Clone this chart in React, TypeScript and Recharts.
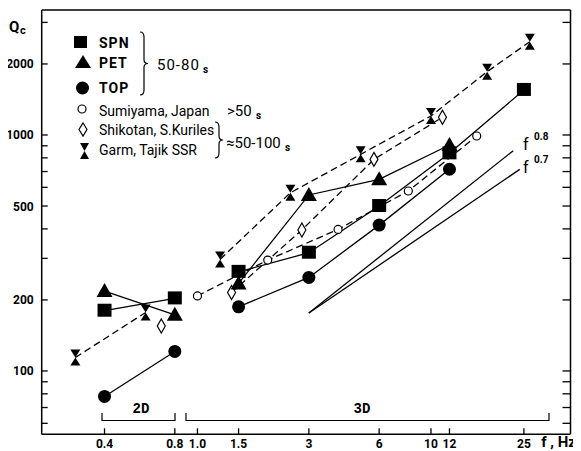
import { LineChart, Line, XAxis, YAxis } from 'recharts'

// frequency (Hz) and coda Q values
const f2D = [0.4, 0.8]
const spn2D = [180, 203]
const pet2D = [218, 173]
const top2D = [78, 121]

const f3D = [1.5, 3, 6, 12]
const spnF3D = [1.5, 3, 6, 12, 25]
const spn3D = [263, 317, 500, 836, 1552]
const pet3D = [235, 557, 649, 907]
const top3D = [187, 249, 415, 716]

const sumiF = [1, 2, 4, 8, 15.7]
const sumiQ = [208, 295, 398, 579, 990]

const shikF2D = [0.7]
const shikQ2D = [155]
const shikF = [1.4, 2.8, 5.7, 11.2]
const shikQ = [215, 396, 788, 1189]

const garmF2D = [0.3, 0.6]
const garmQ2D = [114, 177]
const garmF = [1.25, 2.5, 5, 10, 17.4, 26.5]
const garmQ = [297, 569, 828, 1204, 1855, 2485]

// reference slopes f^0.8 and f^0.7
const slope08F = [3, 22.5]
const slope08Q = [176, 858]
const slope07F = [3, 24]
const slope07Q = [176, 715]

const xTicks = [0.4, 0.8, 1, 1.5, 3, 6, 10, 12, 25]
const xTickLabels = ['0.4', '0.8', '1.0', '1.5', '3', '6', '10', '12', '25']
const yTicks = [60, 70, 80, 90, 100, 200, 300, 400, 500, 600, 700, 800, 900, 1000, 2000, 3000]
const yLabels = [100, 200, 500, 1000, 2000]

const pts = (fs: number[], qs: number[]) => fs.map((f, i) => ({ f, q: qs[i] }))

const FONT = 'Roboto, "DejaVu Sans", sans-serif'

const nope = (p: any) => p.cx == null || p.cy == null

const Square = (p: any) =>
  nope(p) ? <g key={`s${p.index}`} /> : (
    <rect key={`s${p.index}`} x={p.cx - 7} y={p.cy - 7} width={14} height={13} fill="#000" />
  )

const Tri = (p: any) =>
  nope(p) ? <g key={`t${p.index}`} /> : (
    <polygon
      key={`t${p.index}`}
      points={`${p.cx},${p.cy - 8} ${p.cx - 8},${p.cy + 6} ${p.cx + 8},${p.cy + 6}`}
      fill="#000"
    />
  )

const Dot = (p: any) =>
  nope(p) ? <g key={`c${p.index}`} /> : <circle key={`c${p.index}`} cx={p.cx} cy={p.cy} r={6.5} fill="#000" />

const OpenDot = (p: any) =>
  nope(p) ? <g key={`o${p.index}`} /> : (
    <circle key={`o${p.index}`} cx={p.cx} cy={p.cy} r={4} fill="#fff" stroke="#000" strokeWidth={1.2} />
  )

const Diamond = (p: any) =>
  nope(p) ? <g key={`d${p.index}`} /> : (
    <polygon
      key={`d${p.index}`}
      points={`${p.cx},${p.cy - 7} ${p.cx + 4},${p.cy} ${p.cx},${p.cy + 7} ${p.cx - 4},${p.cy}`}
      fill="#fff"
      stroke="#000"
      strokeWidth={1.2}
    />
  )

const Hourglass = (p: any) =>
  nope(p) ? <g key={`h${p.index}`} /> : (
    <g key={`h${p.index}`}>
      <polygon points={`${p.cx - 5},${p.cy - 8} ${p.cx + 5},${p.cy - 8} ${p.cx},${p.cy}`} fill="#000" />
      <polygon points={`${p.cx},${p.cy} ${p.cx - 5},${p.cy + 8} ${p.cx + 5},${p.cy + 8}`} fill="#000" />
    </g>
  )

const LeftTick = ({ x, y, payload }: any) => (
  <g>
    <line x1={x} x2={x + 6} y1={y} y2={y} stroke="#000" strokeWidth={1.3} />
    {yLabels.includes(payload.value) && (
      <text x={x - 8} y={y + 4.5} textAnchor="end" fontFamily={FONT} fontWeight="bold" fontSize={12} fill="#000">
        {payload.value}
      </text>
    )}
  </g>
)

const RightTick = ({ x, y }: any) => (
  <line x1={x - 8} x2={x} y1={y} y2={y} stroke="#000" strokeWidth={1.3} />
)

const BottomTick = ({ x, y, payload }: any) => (
  <g>
    <line x1={x} x2={x} y1={y} y2={y - 6} stroke="#000" strokeWidth={1.3} />
    <text x={x} y={y + 14} textAnchor="middle" fontFamily={FONT} fontWeight="bold" fontSize={12} fill="#000">
      {xTickLabels[xTicks.indexOf(payload.value)]}
    </text>
  </g>
)

const solid = { stroke: '#000', strokeWidth: 1.3, isAnimationActive: false, activeDot: false, type: 'linear' as const }
const dashed = { ...solid, strokeDasharray: '7 4' }

const brace = (x: number, y1: number, y2: number) => {
  const m = (y1 + y2) / 2
  return `M${x},${y1} Q${x + 4},${y1} ${x + 4},${y1 + 5} L${x + 4},${m - 4} Q${x + 4},${m} ${x + 8},${m} Q${x + 4},${m} ${x + 4},${m + 4} L${x + 4},${y2 - 5} Q${x + 4},${y2} ${x},${y2}`
}

export default function App() {
  const xDomain = [0.2153, 39.58]
  const yDomain = [53.9, 3386]
  return (
    <div style={{ position: 'relative', width: 581, height: 451, margin: '-8px 0 0 -8px', background: '#fff' }}>
      <LineChart width={581} height={451} margin={{ top: 0, right: 0, bottom: 0, left: 0 }}>
        <XAxis
          dataKey="f"
          type="number"
          scale="log"
          domain={xDomain}
          allowDataOverflow
          ticks={xTicks}
          interval={0}
          height={16.7}
          tickSize={0}
          tickMargin={0}
          tickLine={false}
          tick={<BottomTick />}
          axisLine={{ stroke: '#000', strokeWidth: 1.5 }}
        />
        <XAxis
          xAxisId="top"
          orientation="top"
          dataKey="f"
          type="number"
          scale="log"
          domain={xDomain}
          allowDataOverflow
          height={10}
          tick={false}
          tickLine={false}
          axisLine={{ stroke: '#000', strokeWidth: 1.5 }}
        />
        <YAxis
          dataKey="q"
          type="number"
          scale="log"
          domain={yDomain}
          allowDataOverflow
          ticks={yTicks}
          interval={0}
          width={41.7}
          tickSize={0}
          tickMargin={0}
          tickLine={false}
          tick={<LeftTick />}
          axisLine={{ stroke: '#000', strokeWidth: 1.5 }}
        />
        <YAxis
          yAxisId="r"
          orientation="right"
          dataKey="q"
          type="number"
          scale="log"
          domain={yDomain}
          allowDataOverflow
          ticks={yTicks}
          interval={0}
          width={10.5}
          tickSize={0}
          tickMargin={0}
          tickLine={false}
          tick={<RightTick />}
          axisLine={{ stroke: '#000', strokeWidth: 1.5 }}
        />

        <Line data={pts(slope08F, slope08Q)} dataKey="q" {...solid} dot={false} />
        <Line data={pts(slope07F, slope07Q)} dataKey="q" {...solid} dot={false} />

        <Line data={pts(garmF2D, garmQ2D)} dataKey="q" {...dashed} dot={Hourglass} />
        <Line data={pts(garmF, garmQ)} dataKey="q" {...dashed} dot={Hourglass} />
        <Line data={pts(shikF2D, shikQ2D)} dataKey="q" {...dashed} dot={Diamond} />
        <Line data={pts(shikF, shikQ)} dataKey="q" {...dashed} dot={Diamond} />
        <Line data={pts(sumiF, sumiQ)} dataKey="q" {...dashed} dot={OpenDot} />

        <Line data={pts(f2D, spn2D)} dataKey="q" {...solid} dot={Square} />
        <Line data={pts(spnF3D, spn3D)} dataKey="q" {...solid} dot={Square} />
        <Line data={pts(f2D, pet2D)} dataKey="q" {...solid} dot={Tri} />
        <Line data={pts(f3D, pet3D)} dataKey="q" {...solid} dot={Tri} />
        <Line data={pts(f2D, top2D)} dataKey="q" {...solid} dot={Dot} />
        <Line data={pts(f3D, top3D)} dataKey="q" {...solid} dot={Dot} />
      </LineChart>

      <svg width={581} height={451} style={{ position: 'absolute', left: 0, top: 0, pointerEvents: 'none' }}>
        <g fontFamily={FONT} fill="#000">
          {/* axis titles */}
          <text x={9} y={32} fontSize={15} fontWeight="bold">Q</text>
          <text x={20} y={34} fontSize={11} fontWeight="bold">c</text>
          <text x={576} y={447} textAnchor="end" fontSize={15} fontWeight="bold">f , Hz</text>

          {/* legend */}
          <rect x={74} y={36} width={13} height={12} fill="#000" />
          <polygon points="83,55 75,68 91,68" fill="#000" />
          <circle cx={82.5} cy={88} r={6.5} fill="#000" />
          <text x={99} y={48} fontSize={14} fontWeight="bold" letterSpacing={1}>SPN</text>
          <text x={99} y={68} fontSize={14} fontWeight="bold" letterSpacing={1}>PET</text>
          <text x={99} y={93} fontSize={14} fontWeight="bold" letterSpacing={1}>TOP</text>
          <path d={brace(140, 32, 95)} fill="none" stroke="#000" strokeWidth={1.2} />
          <text x={157} y={70} fontSize={15} letterSpacing={1}>50-80</text>
          <text x={203} y={73} fontSize={10} fontWeight="bold">s</text>

          <circle cx={82} cy={109} r={4} fill="#fff" stroke="#000" strokeWidth={1.2} />
          <polygon points="83,123 87,129.5 83,136 79,129.5" fill="#fff" stroke="#000" strokeWidth={1.2} />
          <polygon points="80,143 89,143 84.5,151" fill="#000" />
          <polygon points="84.5,151 80,159 89,159" fill="#000" />
          <text x={99} y={116} fontSize={14}>Sumiyama, Japan</text>
          <text x={227} y={116} fontSize={15}>&gt;50</text>
          <text x={256} y={119} fontSize={10} fontWeight="bold">s</text>
          <text x={99} y={135} fontSize={14}>Shikotan, S.Kuriles</text>
          <text x={99} y={155} fontSize={14}>Garm, Tajik SSR</text>
          <path d={brace(215, 122, 158)} fill="none" stroke="#000" strokeWidth={1.2} />
          <text x={226} y={148} fontSize={15}>≈50-100</text>
          <text x={285} y={151} fontSize={10} fontWeight="bold">s</text>

          {/* slope labels */}
          <text x={523} y={150} fontSize={16}>f</text>
          <text x={534} y={140} fontSize={10} fontWeight="bold">0.8</text>
          <text x={523} y={173} fontSize={16}>f</text>
          <text x={534} y={163} fontSize={10} fontWeight="bold">0.7</text>

          {/* 2D / 3D ranges */}
          <path d="M102,413 L102,420.5 L175,420.5 L175,413" fill="none" stroke="#000" strokeWidth={1.2} />
          <path d="M186,413 L186,420.5 L549,420.5 L549,413" fill="none" stroke="#000" strokeWidth={1.2} />
          <text x={141} y={413} textAnchor="middle" fontFamily='"Liberation Mono", monospace' fontWeight="bold" fontSize={14}>2D</text>
          <text x={362} y={413} textAnchor="middle" fontFamily='"Liberation Mono", monospace' fontWeight="bold" fontSize={14}>3D</text>
        </g>
      </svg>
    </div>
  )
}
